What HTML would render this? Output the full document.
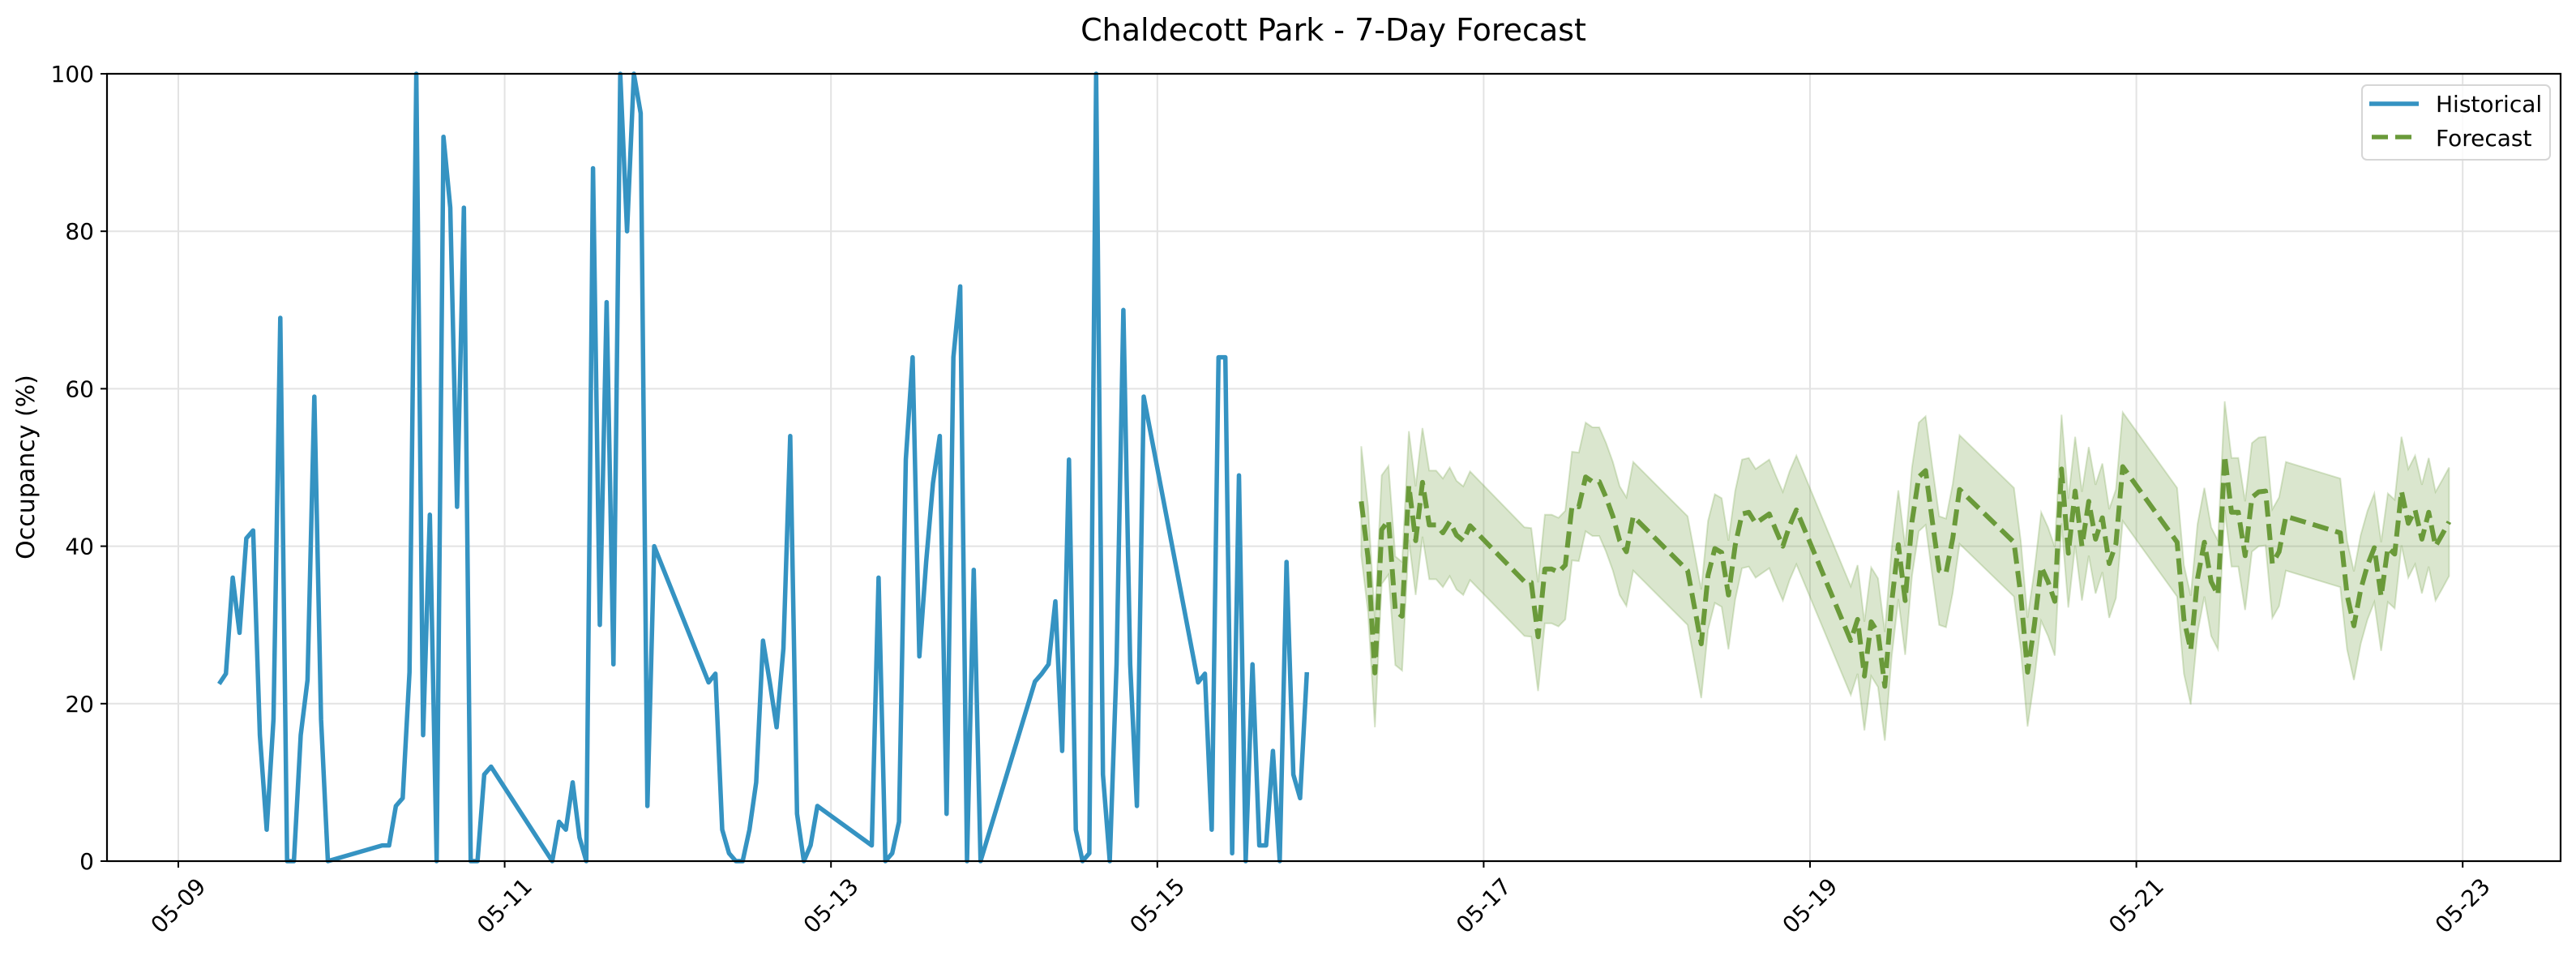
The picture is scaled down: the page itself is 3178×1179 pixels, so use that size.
<!DOCTYPE html>
<html><head><meta charset="utf-8"><style>
html,body{margin:0;padding:0;background:#fff;}
svg{display:block;font-family:"DejaVu Sans","Liberation Sans",sans-serif;}
</style></head><body>
<svg id="chart" width="3178" height="1179" viewBox="0 0 3178 1179" xmlns="http://www.w3.org/2000/svg">
<rect width="3178" height="1179" fill="#fff"/>
<text x="1645" y="50" text-anchor="middle" font-size="38" fill="#000">Chaldecott Park - 7-Day Forecast</text>
<g id="grid"></g>
<g id="band"></g>
<g id="lines"></g>
<g id="axes"></g>
<text x="0" y="0" transform="translate(42,576) rotate(-90)" text-anchor="middle" font-size="30" fill="#000">Occupancy (%)</text>
<g>
<rect x="2914" y="105" width="232" height="92" rx="6" fill="#fff" fill-opacity="0.8" stroke="#d6d6d6" stroke-width="2"/>
<line x1="2923" y1="128" x2="2984" y2="128" stroke="#3593c2" stroke-width="5.5"/>
<text x="3005" y="138" font-size="28" fill="#000">Historical</text>
<line x1="2926" y1="169" x2="2984" y2="169" stroke="#6a9a3a" stroke-width="5.5" stroke-dasharray="20,9"/>
<text x="3005" y="180" font-size="28" fill="#000">Forecast</text>
</g>
</svg>
<script>
// hours since 05-09 00:00
const histHours = [6,7,8,9,10,11,12,13,14,15,16,17,18,19,20,21,22,30,31,32,33,34,35,36,37,38,39,40,41,42,43,44,45,46,55,56,57,58,59,60,61,62,63,64,65,66,67,68,69,70,78,79,80,81,82,83,84,85,86,87,88,89,90,91,92,93,94,102,103,104,105,106,107,108,109,110,111,112,113,114,115,116,117,118,126,127,128,129,130,131,132,133,134,135,136,137,138,139,140,141,142,150,151,152,153,154,155,156,157,158,159,160,161,162,163,164,165,166];
const histValues = [22.5,23.8,36,29,41,42,16,4,18,69,0,0,16,23,59,18,0,2,2,7,8,24,100,16,44,0,92,83,45,83,0,0,11,12,0,5,4,10,3,0,88,30,71,25,100,80,100,95,7,40,22.7,23.8,4,1,0,0,4,10,28,22.7,17,27,54,6,0,2,7,2,36,0,1,5,51,64,26,38,48,54,6,64,73,0,37,0,22.8,23.8,25,33,14,51,4,0,1,100,11,0,25,70,25,7,59,22.7,23.8,4,64,64,1,49,0,25,2,2,14,0,38,11,8,24];
const fcHours = [174,175,176,177,178,179,180,181,182,183,184,185,186,187,188,189,190,198,199,200,201,202,203,204,205,206,207,208,209,210,211,212,213,214,222,223,224,225,226,227,228,229,230,231,232,233,234,235,236,237,238,246,247,248,249,250,251,252,253,254,255,256,257,258,259,260,261,262,270,271,272,273,274,275,276,277,278,279,280,281,282,283,284,285,286,294,295,296,297,298,299,300,301,302,303,304,305,306,307,308,309,310,318,319,320,321,322,323,324,325,326,327,328,329,330,331,332,333,334];
const fcValues = [45.7,38.5,23.9,42.1,43.3,31.8,31.1,47.7,40.7,48.1,42.7,42.7,41.7,43.1,41.4,40.7,42.6,35.5,35.4,28.5,37.1,37.1,36.7,37.6,45.1,45.0,48.8,48.2,48.2,46.2,43.8,40.7,39.3,43.8,36.9,32.3,27.6,36.3,39.7,39.2,33.8,40.1,44.1,44.3,42.9,43.5,44.1,42.0,40.0,42.6,44.6,28.0,30.7,23.5,30.4,29.0,22.2,32.8,40.2,33.1,43.1,48.8,49.6,43.1,36.9,36.6,41.0,47.2,40.5,33.8,24.0,30.0,37.4,35.5,33.0,49.8,39.1,47.0,40.0,45.7,40.9,43.6,37.8,40.3,50.1,40.5,30.7,26.8,35.9,40.5,35.5,33.8,51.5,44.3,44.3,38.8,46.2,46.9,47.0,37.8,39.3,43.8,41.7,33.8,29.9,34.5,37.6,39.8,33.6,39.8,39.0,47.0,42.9,44.6,40.9,44.3,40.0,41.5,43.1];
const fcUpper = [52.7,45.0,30.8,49.0,50.2,38.7,38.0,54.6,47.6,55.0,49.6,49.6,48.6,50.0,48.3,47.6,49.5,42.4,42.3,35.4,44.0,44.0,43.6,44.5,52.0,51.9,55.7,55.1,55.1,53.1,50.7,47.6,46.2,50.7,43.8,39.2,34.5,43.2,46.6,46.1,40.7,47.0,51.0,51.2,49.8,50.4,51.0,48.9,46.9,49.5,51.5,34.9,37.6,30.4,37.3,35.9,29.1,39.7,47.1,40.0,50.0,55.7,56.5,50.0,43.8,43.5,47.9,54.1,47.4,40.7,30.9,36.9,44.3,42.4,39.9,56.7,46.0,53.9,46.9,52.6,47.8,50.5,44.7,47.2,57.0,47.4,37.6,33.7,42.8,47.4,42.4,40.7,58.4,51.2,51.2,45.7,53.1,53.8,53.9,44.7,46.2,50.7,48.6,40.7,36.8,41.4,44.5,46.7,40.5,46.7,45.9,53.9,49.8,51.5,47.8,51.2,46.9,48.4,50.0];
const fcLower = [38.8,31.6,17.0,35.2,36.4,24.9,24.2,40.8,33.8,41.2,35.8,35.8,34.8,36.2,34.5,33.8,35.7,28.6,28.5,21.6,30.2,30.2,29.8,30.7,38.2,38.1,41.9,41.3,41.3,39.3,36.9,33.8,32.4,36.9,30.0,25.4,20.7,29.4,32.8,32.3,26.9,33.2,37.2,37.4,36.0,36.6,37.2,35.1,33.1,35.7,37.7,21.1,23.8,16.6,23.5,22.1,15.3,25.9,33.3,26.2,36.2,41.9,42.7,36.2,30.0,29.7,34.1,40.3,33.6,26.9,17.1,23.1,30.5,28.6,26.1,42.9,32.2,40.1,33.1,38.8,34.0,36.7,30.9,33.4,43.2,33.6,23.8,19.9,29.0,33.6,28.6,26.9,44.6,37.4,37.4,31.9,39.3,40.0,40.1,30.9,32.4,36.9,34.8,26.9,23.0,27.6,30.7,32.9,26.7,32.9,32.1,40.1,36.0,37.7,34.0,37.4,33.1,34.6,36.2];
const yTicks = [0,20,40,60,80,100];
const xTickHours = [0,48,96,144,192,240,288,336];
const xTickLabels = ["05-09","05-11","05-13","05-15","05-17","05-19","05-21","05-23"];

const L=132,R=3159,T=91,B=1062;
const HOUR0_X=220, PX_PER_HOUR=201.3/24;
function xs(h){return HOUR0_X+h*PX_PER_HOUR;}
function ys(v){return B-(v/100)*(B-T);}
const NS="http://www.w3.org/2000/svg";
function mk(tag,attrs,parent){const e=document.createElementNS(NS,tag);for(const k in attrs)e.setAttribute(k,attrs[k]);parent.appendChild(e);return e;}

const grid=document.getElementById('grid');
const axes=document.getElementById('axes');
xTickHours.forEach((h,i)=>{
  const x=xs(h);
  const gl=mk('line',{x1:x,y1:T,x2:x,y2:B,stroke:'#e3e3e3','stroke-width':2},grid);
  
  
  const tk=mk('line',{x1:x,y1:B,x2:x,y2:B+8,stroke:'#000','stroke-width':2},axes);
  
  
  const cy=1117;
  const t=mk('text',{x:x,y:cy,'text-anchor':'middle','dominant-baseline':'central','font-size':28,fill:'#000',transform:`rotate(-45 ${x} ${cy})`},axes);
  t.textContent=xTickLabels[i];
  
  
});
yTicks.forEach(v=>{
  const y=ys(v);
  const gl=mk('line',{x1:L,y1:y,x2:R,y2:y,stroke:'#e3e3e3','stroke-width':2},grid);
  
  
  const tk=mk('line',{x1:L-8,y1:y,x2:L,y2:y,stroke:'#000','stroke-width':2},axes);
  
  
  const t=mk('text',{x:L-16,y:y+10,'text-anchor':'end','font-size':28,fill:'#000'},axes);
  t.textContent=String(v);
  
  
});
const frame=mk('rect',{x:L,y:T,width:R-L,height:B-T,fill:'none',stroke:'#000','stroke-width':2.2},axes);



let d='';
fcHours.forEach((h,i)=>{d+=(i?'L':'M')+xs(h).toFixed(1)+','+ys(fcUpper[i]).toFixed(1);});
for(let i=fcHours.length-1;i>=0;i--){d+='L'+xs(fcHours[i]).toFixed(1)+','+ys(fcLower[i]).toFixed(1);}
d+='Z';
const band=mk('path',{d:d,fill:'#6a9a3a','fill-opacity':0.25,stroke:'#6a9a3a','stroke-opacity':0.25,'stroke-width':2},document.getElementById('band'));



const lines=document.getElementById('lines');
const hp=histHours.map((h,i)=>xs(h).toFixed(1)+','+ys(histValues[i]).toFixed(1)).join(' ');
const hl=mk('polyline',{points:hp,fill:'none',stroke:'#3593c2','stroke-width':5.5,'stroke-linejoin':'round'},lines);


const fp=fcHours.map((h,i)=>xs(h).toFixed(1)+','+ys(fcValues[i]).toFixed(1)).join(' ');
const fl=mk('polyline',{points:fp,fill:'none',stroke:'#6a9a3a','stroke-width':6,'stroke-dasharray':'20,9','stroke-linejoin':'round'},lines);


</script>
</body></html>
